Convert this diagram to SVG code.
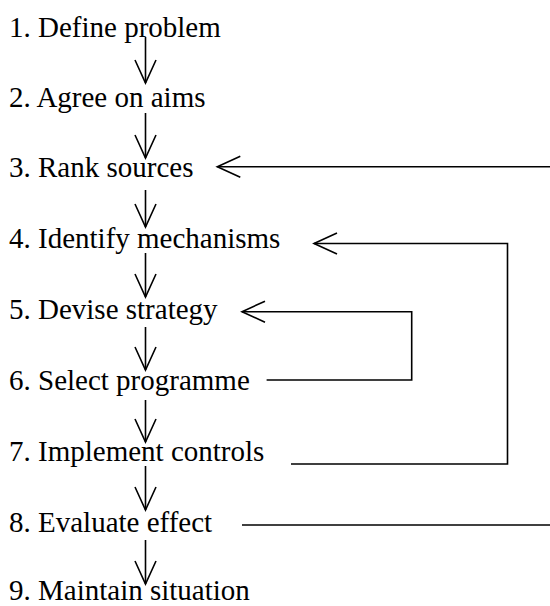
<svg xmlns="http://www.w3.org/2000/svg" width="550" height="606" viewBox="0 0 550 606">
<style>
  .t { font-family: "Liberation Serif", "Times New Roman", serif; font-size: 29px; fill: #000; }
  .c { fill: none; stroke: #000; stroke-width: 1.6; }
</style>
<defs>
  <marker id="v" markerUnits="userSpaceOnUse" markerWidth="40" markerHeight="40" viewBox="-30 -20 40 40" refX="0" refY="0" orient="auto" overflow="visible">
    <path d="M-23,-10.5 L0,0 L-23,10.5" fill="none" stroke="#000" stroke-width="1.6"/>
  </marker>
</defs>
<rect width="550" height="606" fill="#fff"/>
<g id="n1"><text class="t" x="9" y="36.5">1. Define problem</text></g>
<g id="n2"><text class="t" x="9" y="107">2. Agree on aims</text></g>
<g id="n3"><text class="t" x="9" y="177">3. Rank sources</text></g>
<g id="n4"><text class="t" x="9" y="248">4. Identify mechanisms</text></g>
<g id="n5"><text class="t" x="9" y="319">5. Devise strategy</text></g>
<g id="n6"><text class="t" x="9" y="390">6. Select programme</text></g>
<g id="n7"><text class="t" x="9" y="461">7. Implement controls</text></g>
<g id="n8"><text class="t" x="9" y="532">8. Evaluate effect</text></g>
<g id="n9"><text class="t" x="9" y="600">9. Maintain situation</text></g>
<g id="connectors">
  <path class="c" marker-end="url(#v)" d="M145.5,37 V83"/>
  <path class="c" marker-end="url(#v)" d="M145.5,113 V158"/>
  <path class="c" marker-end="url(#v)" d="M145.5,190 V227"/>
  <path class="c" marker-end="url(#v)" d="M145.5,253 V297"/>
  <path class="c" marker-end="url(#v)" d="M145.5,327 V370"/>
  <path class="c" marker-end="url(#v)" d="M145.5,400 V442"/>
  <path class="c" marker-end="url(#v)" d="M145.5,466 V510"/>
  <path class="c" marker-end="url(#v)" d="M145.5,540 V584"/>
  <path class="c" marker-end="url(#v)" d="M552,166.7 H217.3"/>
  <path class="c" marker-end="url(#v)" d="M291,464 H507.5 V243.5 H314"/>
  <path class="c" marker-end="url(#v)" d="M266.6,380 H411.7 V311.7 H242"/>
  <path class="c" d="M242,525 H552"/>
</g>
</svg>
